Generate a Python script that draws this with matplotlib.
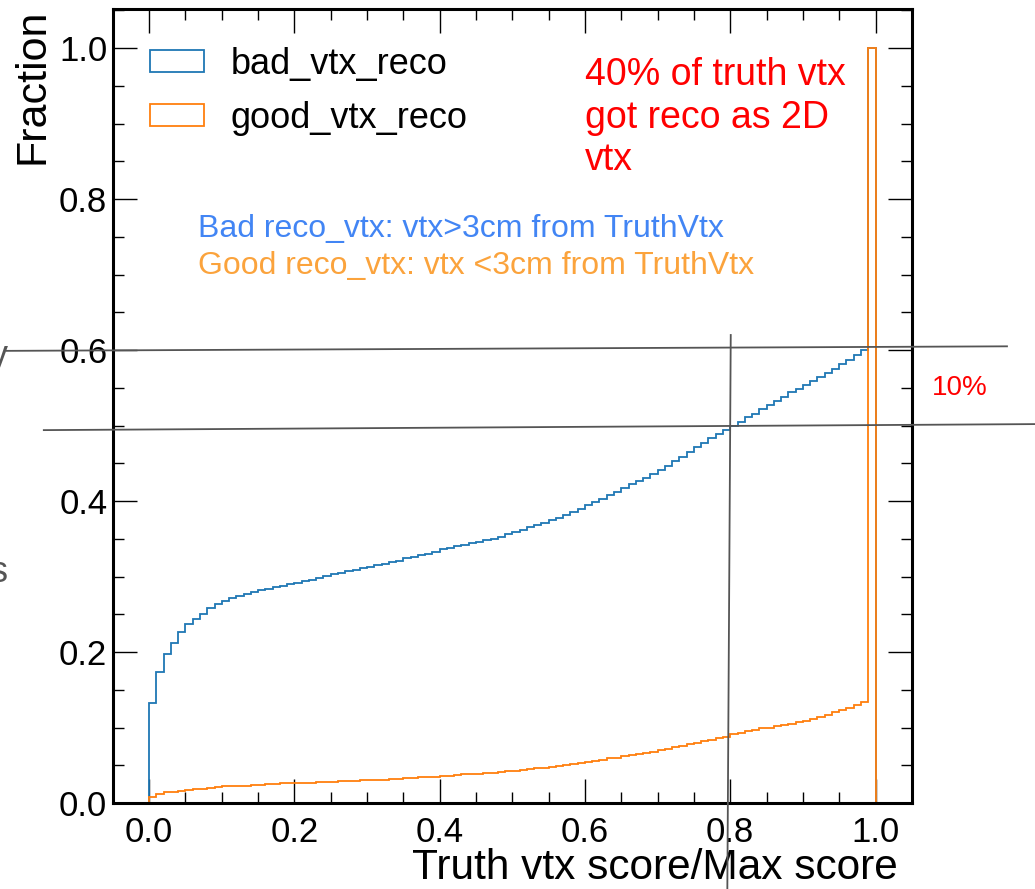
import numpy as np
import matplotlib
matplotlib.use("Agg")
import matplotlib.pyplot as plt
from matplotlib.patches import Patch
from matplotlib.ticker import MultipleLocator

plt.rcParams['font.family'] = ['Liberation Sans', 'DejaVu Sans']

# Cumulative fraction per 0.01 bin of the truth-vertex score ratio
bin_edges = np.linspace(0.0, 1.0, 101)

bad_vtx_reco = [
    0.133, 0.174, 0.197, 0.212, 0.227, 0.237, 0.244, 0.251, 0.258, 0.263,
    0.268, 0.271, 0.274, 0.277, 0.279, 0.282, 0.284, 0.286, 0.288, 0.290,
    0.292, 0.294, 0.296, 0.298, 0.301, 0.303, 0.305, 0.307, 0.309, 0.311,
    0.313, 0.315, 0.317, 0.319, 0.321, 0.324, 0.326, 0.328, 0.330, 0.333,
    0.336, 0.338, 0.340, 0.342, 0.344, 0.346, 0.348, 0.350, 0.353, 0.356,
    0.359, 0.362, 0.365, 0.368, 0.371, 0.375, 0.378, 0.382, 0.386, 0.390,
    0.395, 0.399, 0.403, 0.408, 0.412, 0.417, 0.422, 0.426, 0.431, 0.436,
    0.441, 0.447, 0.453, 0.459, 0.465, 0.471, 0.477, 0.483, 0.489, 0.494,
    0.500, 0.505, 0.511, 0.516, 0.522, 0.527, 0.533, 0.538, 0.544, 0.549,
    0.554, 0.559, 0.564, 0.570, 0.575, 0.581, 0.587, 0.593, 0.600, 1.000,
]

good_vtx_reco = [
    0.008, 0.012, 0.014, 0.015, 0.016, 0.017, 0.018, 0.019, 0.020, 0.021,
    0.022, 0.022, 0.023, 0.023, 0.024, 0.024, 0.025, 0.025, 0.026, 0.026,
    0.027, 0.027, 0.027, 0.028, 0.028, 0.028, 0.029, 0.029, 0.029, 0.030,
    0.030, 0.031, 0.031, 0.032, 0.032, 0.033, 0.033, 0.034, 0.034, 0.035,
    0.036, 0.036, 0.037, 0.038, 0.038, 0.039, 0.040, 0.040, 0.041, 0.042,
    0.043, 0.044, 0.045, 0.046, 0.047, 0.048, 0.049, 0.050, 0.052, 0.053,
    0.055, 0.056, 0.057, 0.059, 0.060, 0.062, 0.063, 0.065, 0.066, 0.068,
    0.070, 0.072, 0.074, 0.076, 0.078, 0.080, 0.082, 0.084, 0.086, 0.088,
    0.091, 0.093, 0.095, 0.097, 0.099, 0.100, 0.102, 0.104, 0.105, 0.107,
    0.109, 0.111, 0.114, 0.117, 0.120, 0.123, 0.126, 0.130, 0.134, 1.000,
]

series_labels = ["bad_vtx_reco", "good_vtx_reco"]
series_colors = ["#1f77b4", "#ff7f0e"]

fig = plt.figure(figsize=(10.35, 8.89), dpi=100)
ax = fig.add_axes([0.109, 0.0967, 0.772, 0.8933])

ax.stairs(bad_vtx_reco, bin_edges, baseline=0, color=series_colors[0], lw=1.3, zorder=3)
ax.stairs(good_vtx_reco, bin_edges, baseline=0, color=series_colors[1], lw=1.3, zorder=3.1)

ax.set_xlim(-0.05, 1.05)
ax.set_ylim(0.0, 1.052)

ax.xaxis.set_major_locator(MultipleLocator(0.2))
ax.xaxis.set_minor_locator(MultipleLocator(0.05))
ax.yaxis.set_major_locator(MultipleLocator(0.2))
ax.yaxis.set_minor_locator(MultipleLocator(0.05))
ax.tick_params(which='both', direction='in', top=True, right=True, labelsize=25)
ax.tick_params(which='major', length=17, width=1.0)
ax.tick_params(which='minor', length=8, width=1.0)
ax.tick_params(axis='x', which='major', pad=9)
ax.tick_params(axis='y', which='major', pad=4)
for sp in ax.spines.values():
    sp.set_linewidth(2.2)
    sp.set_zorder(4)

ax.set_ylabel("Fraction", fontsize=31, loc='top')
ax.set_xlabel("Truth vtx score/Max score", fontsize=30.5, loc='right')
ax.yaxis.set_label_coords(-0.076, 1.0)
ax.xaxis.set_label_coords(0.982, -0.0565)

handles = [Patch(facecolor='none', edgecolor=c, lw=1.3) for c in series_colors]
ax.legend(handles, series_labels, loc='upper left', bbox_to_anchor=(0.046, 0.952),
          frameon=False, fontsize=26, borderaxespad=0, borderpad=0,
          handlelength=1.5, handleheight=0.55, handletextpad=0.75, labelspacing=0.52)

ax.text(0.600, 0.988, "40% of truth vtx\ngot reco as 2D\nvtx", color='#ff0000',
        fontsize=27, va='top', ha='left', linespacing=1.23)
ax.text(0.067, 0.761, "Bad reco_vtx: vtx>3cm from TruthVtx", color='#4285f4',
        fontsize=23, va='center', ha='left')
ax.text(0.067, 0.711, "Good reco_vtx: vtx <3cm from TruthVtx", color='#fba33c',
        fontsize=23, va='center', ha='left')
ax.text(1.078, 0.55, "10%", color='#ff0000', fontsize=20, va='center', ha='left',
        clip_on=False)

# guide lines marking the 0.5 / 0.6 levels and the 0.8 cut
guide = dict(color='#555555', lw=1.3, clip_on=False, zorder=5)
ax.plot([-0.196, 1.181], [0.599, 0.605], **guide)
ax.plot([-0.145, 1.223], [0.494, 0.502], **guide)
ax.plot([0.8007, 0.796], [0.620, -0.114], **guide)

# stray labels at the left margin
fig.text(0.008, 1 - 356 / 889, "y", color='#555555', fontsize=26, ha='right', va='center')
fig.text(0.008, 1 - 572 / 889, "s", color='#555555', fontsize=26, ha='right', va='center')

fig.savefig("out.png", dpi=100)
